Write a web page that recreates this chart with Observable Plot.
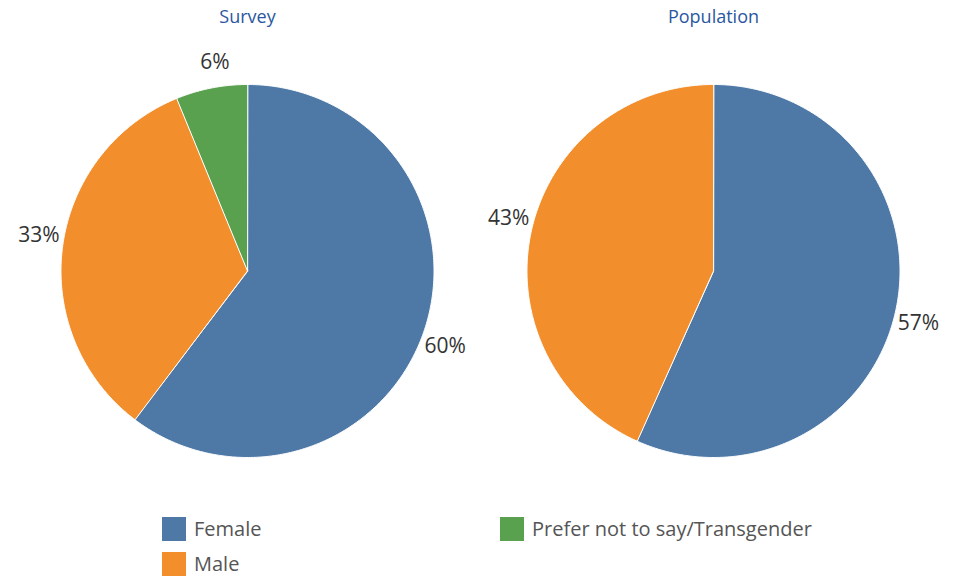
<!DOCTYPE html>
<html>
<head>
<meta charset="utf-8">
<script src="https://cdn.jsdelivr.net/npm/d3@7"></script>
<script src="https://cdn.jsdelivr.net/npm/@observablehq/plot@0.6"></script>
<style>
  body { margin: 0; background: #fff; font-family: "Open Sans", sans-serif; }
  #wrap { position: relative; width: 957px; height: 577px; }
  .leg { position: absolute; display: flex; align-items: center; font-size: 20px; color: #555; }
  .sw { width: 24px; height: 24px; margin-right: 8px; }
</style>
</head>
<body>
<div id="wrap"></div>
<script>
// ---- data ----
const charts = ["Survey", "Population"];
const categories = ["Female", "Male", "Prefer not to say/Transgender"];
const colors = ["#4e79a7", "#f28e2b", "#59a14f"];
const surveyValues = [60.3, 33.5, 6.2];
const populationValues = [56.7, 43.3, 0];
const labels = {Survey: ["60%", "33%", "6%"], Population: ["57%", "43%", ""]};

// ---- build slices ----
const R = 186.5;          // pie radius in px
const W = 957, H = 500;
const mL = 14, mR = 11;
const facetW = (W - mL - mR) / 2;
const cy = 270.5;
const span = H / R;
const y0 = -(H - cy) / R, y1 = y0 + span;

const seriesByChart = {Survey: surveyValues, Population: populationValues};
const polys = [];
const texts = [];
for (const chart of charts) {
  const vals = seriesByChart[chart];
  const total = d3.sum(vals);
  let acc = 0;
  vals.forEach((v, i) => {
    if (v <= 0) { return; }
    const a0 = acc / total * 2 * Math.PI;
    acc += v;
    const a1 = acc / total * 2 * Math.PI;
    const key = chart + "-" + i;
    polys.push({chart, key, cat: categories[i], x: 0, y: 0});
    const n = Math.max(2, Math.ceil((a1 - a0) / (Math.PI / 360)));
    for (let k = 0; k <= n; k++) {
      const a = a0 + (a1 - a0) * k / n;
      polys.push({chart, key, cat: categories[i], x: Math.sin(a), y: Math.cos(a)});
    }
    const am = (a0 + a1) / 2 + 0.04;
    const kk = 1 + 25 / R;
    texts.push({chart, label: labels[chart][i], x: Math.sin(am) * kk, y: Math.cos(am) * kk});
  });
}

const plot = Plot.plot({
  width: W,
  height: H,
  marginLeft: mL,
  marginRight: mR,
  marginTop: 0,
  marginBottom: 0,
  style: {fontFamily: "Open Sans, sans-serif", background: "transparent"},
  fx: {domain: charts, padding: 0, axis: null},
  x: {domain: [-facetW / 2 / R, facetW / 2 / R], axis: null},
  y: {domain: [y0, y1], axis: null},
  color: {domain: categories, range: colors},
  marks: [
    Plot.line(polys, {fx: "chart", x: "x", y: "y", z: "key", fill: "cat", stroke: "white", strokeWidth: 1, curve: "linear-closed"}),
    Plot.text(texts, {fx: "chart", x: "x", y: "y", text: "label", fontSize: 21, fill: "#333", textAnchor: "middle"}),
    Plot.text(charts, {fx: d => d, text: d => d, frameAnchor: "top", dy: 10, fontSize: 18, fill: "#2a57a0"})
  ]
});

const wrap = document.getElementById("wrap");
wrap.appendChild(plot);

const legendPos = [
  {left: 162, top: 515},
  {left: 162, top: 550},
  {left: 500, top: 515}
];
categories.forEach((c, i) => {
  const d = document.createElement("div");
  d.className = "leg";
  d.style.left = legendPos[i].left + "px";
  d.style.top = legendPos[i].top + "px";
  d.innerHTML = `<div class="sw" style="background:${colors[i]}"></div><span>${c}</span>`;
  wrap.appendChild(d);
});
</script>
</body>
</html>
